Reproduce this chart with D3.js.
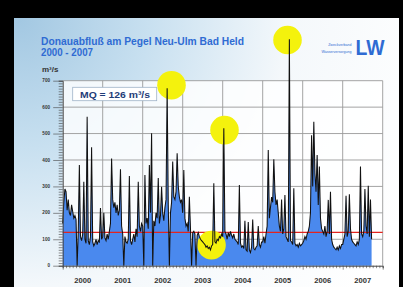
<!DOCTYPE html>
<html><head><meta charset="utf-8">
<script src="https://cdn.jsdelivr.net/npm/d3@7"></script>
<style>html,body{margin:0;padding:0;background:#000;overflow:hidden}svg{display:block}</style>
</head><body>
<script>
// ---- data (discharge m³/s, ~10-day steps, 36 per year) ----
const years = [2000, 2001, 2002, 2003, 2004, 2005, 2006, 2007];
const flow2000 = [160, 240, 290, 280, 210, 250, 200, 190, 230, 205, 180, 190, 175, 0, 130, 381, 110, 95, 120, 318, 100, 85, 564, 95, 80, 110, 448, 90, 75, 85, 100, 80, 95, 90, 218, 100];
const flow2001 = [110, 200, 105, 95, 120, 100, 130, 160, 406, 250, 220, 240, 200, 230, 190, 210, 365, 150, 120, 0, 110, 90, 85, 100, 339, 95, 80, 100, 120, 90, 140, 110, 318, 150, 130, 160];
const flow2002 = [150, 0, 343, 160, 180, 140, 381, 200, 501, 0, 170, 150, 200, 180, 332, 160, 190, 299, 200, 170, 220, 250, 671, 230, 0, 200, 240, 394, 260, 250, 280, 425, 300, 260, 240, 250];
const flow2003 = [200, 362, 180, 150, 160, 130, 261, 140, 0, 125, 130, 120, 0, 115, 125, 110, 100, 95, 90, 85, 80, 70, 75, 65, 70, 60, 75, 80, 312, 90, 85, 100, 95, 110, 105, 120];
const flow2004 = [110, 520, 130, 120, 100, 125, 110, 130, 115, 105, 120, 100, 95, 90, 80, 305, 85, 70, 75, 65, 170, 60, 55, 165, 60, 50, 70, 175, 65, 60, 70, 75, 150, 80, 70, 90];
const flow2005 = [90, 110, 85, 120, 150, 438, 180, 220, 260, 240, 403, 280, 230, 250, 200, 150, 130, 250, 120, 140, 267, 110, 100, 90, 857, 95, 90, 80, 293, 85, 75, 80, 70, 85, 75, 80];
const flow2006 = [85, 95, 110, 100, 120, 130, 150, 200, 494, 300, 545, 350, 280, 419, 230, 375, 180, 140, 130, 120, 150, 110, 130, 249, 120, 280, 100, 80, 70, 65, 60, 70, 60, 75, 65, 80];
const flow2007 = [80, 100, 120, 265, 110, 130, 270, 140, 100, 90, 85, 80, 75, 90, 80, 100, 375, 120, 110, 130, 290, 150, 120, 302, 110, 250, 100];
const flowByYear = [flow2000, flow2001, flow2002, flow2003, flow2004, flow2005, flow2006, flow2007];
const stepsPerYear = 36;
const mqValue = 126;
const yTicks = [0, 100, 200, 300, 400, 500, 600, 700];
// highlighted events (year fraction, value)
const highlightT = [2005.62, 2002.72, 2004.045, 2003.72];
const highlightV = [854, 683, 513, 78];

const series = [];
flowByYear.forEach((arr, k) => arr.forEach((v, i) => series.push({t: years[k] + i / stepsPerYear, v})));

const W = 403, H = 287;
const svg = d3.select("body").append("svg").attr("width", W).attr("height", H);
const defs = svg.append("defs");
const rg = defs.append("radialGradient").attr("id", "bg").attr("gradientUnits", "userSpaceOnUse")
  .attr("cx", 20).attr("cy", 20).attr("r", 430);
rg.append("stop").attr("offset", 0).attr("stop-color", "#a3c8e2");
rg.append("stop").attr("offset", 0.3).attr("stop-color", "#c8e0f0");
rg.append("stop").attr("offset", 0.62).attr("stop-color", "#f4f8fb");
rg.append("stop").attr("offset", 1).attr("stop-color", "#ffffff");
const blur = defs.append("filter").attr("id", "soft").attr("x", "-20%").attr("y", "-20%").attr("width", "140%").attr("height", "140%");
blur.append("feGaussianBlur").attr("stdDeviation", 0.7);

// frame
svg.append("rect").attr("width", W).attr("height", H).attr("fill", "#000");
svg.append("rect").attr("x", 14).attr("y", 18).attr("width", 385).attr("height", H - 18).attr("fill", "url(#bg)");

const x = d3.scaleLinear().domain([2000, 2008]).range([62.7, 382.7]);
const y = d3.scaleLinear().domain([0, 700]).range([265.7, 80.7]);

// plot background
svg.append("rect").attr("x", x(2000)).attr("y", y(700)).attr("width", x(2008) - x(2000)).attr("height", y(0) - y(700))
  .attr("fill", "#fff").attr("opacity", 0.82);

// gridlines
const grid = svg.append("g").attr("stroke", "#9a9a9a").attr("stroke-width", 0.9);
yTicks.filter(d => d > 0).forEach(d => grid.append("line").attr("x1", x(2000)).attr("x2", x(2008)).attr("y1", y(d)).attr("y2", y(d)));
d3.range(2001, 2009).forEach(d => grid.append("line").attr("x1", x(d)).attr("x2", x(d)).attr("y1", y(0)).attr("y2", y(700)));

// area
svg.append("path").datum(series).attr("fill", "#4a89ee")
  .attr("d", d3.area().x(d => x(d.t)).y0(y(0)).y1(d => y(d.v)));

// MQ line
svg.append("line").attr("x1", x(2000)).attr("x2", x(2008)).attr("y1", y(mqValue)).attr("y2", y(mqValue))
  .attr("stroke", "#e3241f").attr("stroke-width", 1.3);

// yellow highlight circles
svg.append("g").selectAll("circle").data(highlightT).join("circle")
  .attr("cx", d => x(d)).attr("cy", (d, i) => y(highlightV[i])).attr("r", 14.3)
  .attr("fill", "#f4f20c").attr("filter", "url(#soft)");

// line
svg.append("path").datum(series).attr("fill", "none").attr("stroke", "#111").attr("stroke-width", 1.05)
  .attr("stroke-linejoin", "miter")
  .attr("d", d3.line().x(d => x(d.t)).y(d => y(d.v)));

// y axis
const yAxis = svg.append("g").attr("transform", `translate(${x(2000)},0)`);
yAxis.call(d3.axisLeft(y).tickValues(d3.range(0, 701, 10)).tickSize(4).tickFormat(""));
yAxis.call(g => g.selectAll(".tick").filter(d => d % 100 === 0).select("line").attr("x2", -9.5));
yAxis.selectAll(".tick line").attr("stroke", "#444").attr("stroke-width", 0.6);
yAxis.select(".domain").attr("stroke", "#444").attr("stroke-width", 1);
svg.append("g").selectAll("text").data(yTicks).join("text")
  .attr("x", 50).attr("y", d => y(d) + 1.6).attr("text-anchor", "end")
  .attr("font-family", "Liberation Sans, Arial, sans-serif").attr("font-weight", "bold")
  .attr("font-size", 4.6).attr("fill", "#333").text(d => d);

// x axis
const xAxis = svg.append("g").attr("transform", `translate(0,${y(0)})`);
xAxis.call(d3.axisBottom(x).tickValues(d3.range(0, 97).map(m => 2000 + m / 12)).tickSize(2.5).tickFormat(""));
xAxis.call(g => g.selectAll(".tick").filter(d => Math.abs(d - Math.round(d)) < 1e-6).select("line").attr("y2", 4));
xAxis.selectAll(".tick line").attr("stroke", "#444").attr("stroke-width", 0.6);
xAxis.select(".domain").attr("stroke", "#444").attr("stroke-width", 1);
svg.append("g").selectAll("text").data(years).join("text")
  .attr("x", d => x(d + 0.5)).attr("y", 283.3).attr("text-anchor", "middle")
  .attr("font-family", "Liberation Sans, Arial, sans-serif").attr("font-weight", "bold")
  .attr("font-size", 7.6).attr("fill", "#333").text(d => d);

// unit label
svg.append("text").attr("x", 42).attr("y", 71.8)
  .attr("font-family", "Liberation Sans, Arial, sans-serif").attr("font-weight", "bold")
  .attr("font-size", 8).attr("fill", "#333").text("m³/s");

// title
const title = svg.append("g").attr("font-family", "Liberation Sans, Arial, sans-serif").attr("font-weight", "bold").attr("fill", "#2f6bd3");
title.append("text").attr("x", 41).attr("y", 45).attr("font-size", 10)
  .attr("textLength", 203).attr("lengthAdjust", "spacingAndGlyphs").text("Donauabfluß am Pegel Neu-Ulm Bad Held");
title.append("text").attr("x", 41).attr("y", 56.3).attr("font-size", 10)
  .attr("textLength", 52).attr("lengthAdjust", "spacingAndGlyphs").text("2000 - 2007");

// MQ box
svg.append("rect").attr("x", 72.7).attr("y", 87.3).attr("width", 84).attr("height", 13.4)
  .attr("fill", "#fff").attr("stroke", "#9fb3c8").attr("stroke-width", 0.8);
svg.append("text").attr("x", 80).attr("y", 98.2)
  .attr("font-family", "Liberation Sans, Arial, sans-serif").attr("font-weight", "bold")
  .attr("font-size", 9.5).attr("fill", "#1e3c78")
  .attr("textLength", 70).attr("lengthAdjust", "spacingAndGlyphs").text("MQ = " + mqValue + " m³/s");

// logo
const logo = svg.append("g").attr("font-family", "Liberation Sans, Arial, sans-serif").attr("fill", "#2f6bd3");
logo.append("text").attr("x", 351.5).attr("y", 46).attr("text-anchor", "end").attr("font-size", 3.6).text("Zweckverband");
logo.append("text").attr("x", 351.5).attr("y", 52.5).attr("text-anchor", "end").attr("font-size", 3.6).text("Wasserversorgung");
logo.append("text").attr("x", 355.5).attr("y", 55).attr("font-size", 22).attr("font-weight", "bold")
  .attr("textLength", 29).attr("lengthAdjust", "spacingAndGlyphs").text("LW");
</script>
</body></html>
